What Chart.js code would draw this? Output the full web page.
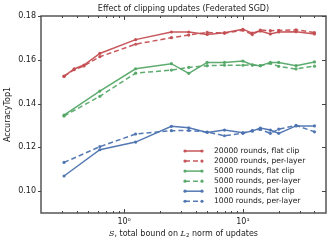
<!DOCTYPE html>
<html>
<head>
<meta charset="utf-8">
<script src="https://cdn.jsdelivr.net/npm/chart.js@4"></script>
<style>
  html, body { margin: 0; padding: 0; background: #fff; }
  #wrap { width: 332px; height: 246px; }
</style>
</head>
<body>
<div id="wrap"><canvas id="chart" width="332" height="246"></canvas></div>
<script>
// x positions (S, total bound on L2 norm)
const xsMain = [0.3125, 0.625, 1.25, 2.5, 3.5, 5, 7, 10, 12, 14, 17, 20, 28, 40];
const xsRed = [0.3125, 0.38, 0.46, 0.625, 1.25, 2.5, 3.5, 5, 7, 10, 12, 14, 17, 20, 28, 40];

// accuracy values
const red20kFlat = [0.1524, 0.1558, 0.1576, 0.1629, 0.1692, 0.1727, 0.1727, 0.1716, 0.1724, 0.1739, 0.1722, 0.1731, 0.1718, 0.1727, 0.1728, 0.1718];
const red20kLayer = [0.1525, 0.1555, 0.1572, 0.1614, 0.1671, 0.1701, 0.1713, 0.1725, 0.1721, 0.1735, 0.1715, 0.1736, 0.1733, 0.1734, 0.1737, 0.1724];
const green5kFlat = [0.1347, 0.1457, 0.1559, 0.1582, 0.1538, 0.1588, 0.1588, 0.1594, 0.1576, 0.1573, 0.1588, 0.1588, 0.1573, 0.1590];
const green5kLayer = [0.1343, 0.1433, 0.1539, 0.1553, 0.1565, 0.1573, 0.1575, 0.1575, 0.1577, 0.1573, 0.1584, 0.1570, 0.1558, 0.1571];
const blue1kFlat = [0.1069, 0.1189, 0.1224, 0.1296, 0.1289, 0.1268, 0.1279, 0.1267, 0.1274, 0.1288, 0.1279, 0.1264, 0.1298, 0.1298];
const blue1kLayer = [0.1131, 0.1203, 0.1261, 0.1276, 0.1277, 0.1270, 0.1253, 0.1264, 0.1277, 0.1282, 0.1264, 0.1283, 0.1300, 0.1271];

const seriesNames = [
  '20000 rounds, flat clip', '20000 rounds, per-layer',
  '5000 rounds, flat clip', '5000 rounds, per-layer',
  '1000 rounds, flat clip', '1000 rounds, per-layer'
];

const yTicks = [0.10, 0.12, 0.14, 0.16, 0.18];
const xMajorTicks = [1, 10];
const xMinorTicks = [0.3, 0.4, 0.5, 0.6, 0.7, 0.8, 0.9, 2, 3, 4, 5, 6, 7, 8, 9, 20, 30, 40];

const RED = 'rgba(196, 78, 82, 0.95)';
const GREEN = 'rgba(85, 168, 104, 0.95)';
const BLUE = 'rgba(76, 114, 176, 0.95)';
const FONT = "'DejaVu Sans', sans-serif";
const DASH = [5, 3];

function pts(xs, ys) {
  return xs.map((x, i) => ({ x: x, y: ys[i] }));
}

function makeSet(label, xs, ys, color, dashed) {
  return {
    label: label,
    data: pts(xs, ys),
    borderColor: color,
    backgroundColor: color,
    borderWidth: 1.5,
    borderDash: dashed ? DASH : [],
    pointRadius: 1.6,
    pointBorderWidth: 0,
    pointBackgroundColor: color,
    tension: 0,
    fill: false
  };
}

// title, axis frame, inside ticks, x label and legend
const decorPlugin = {
  id: 'decor',
  afterDraw(chart) {
    const ctx = chart.ctx;
    const a = chart.chartArea;
    const xs = chart.scales.x;
    const ys = chart.scales.y;
    ctx.save();

    // frame
    ctx.strokeStyle = '#555';
    ctx.lineWidth = 1.5;
    ctx.setLineDash([]);
    ctx.strokeRect(a.left, a.top, a.right - a.left, a.bottom - a.top);

    // ticks
    ctx.lineWidth = 1;
    ctx.strokeStyle = '#444';
    function xTick(v, len) {
      const px = Math.round(xs.getPixelForValue(v)) + 0.5;
      ctx.beginPath();
      ctx.moveTo(px, a.bottom); ctx.lineTo(px, a.bottom - len);
      ctx.moveTo(px, a.top); ctx.lineTo(px, a.top + len);
      ctx.stroke();
    }
    xMajorTicks.forEach(v => xTick(v, 4));
    xMinorTicks.forEach(v => xTick(v, 2));
    yTicks.forEach(v => {
      const py = Math.round(ys.getPixelForValue(v)) + 0.5;
      ctx.beginPath();
      ctx.moveTo(a.left - 3, py); ctx.lineTo(a.left, py);
      ctx.moveTo(a.right, py); ctx.lineTo(a.right - 4, py);
      ctx.stroke();
    });

    // title
    ctx.fillStyle = '#222';
    ctx.font = '8px ' + FONT;
    ctx.textAlign = 'center';
    ctx.textBaseline = 'middle';
    ctx.fillText('Effect of clipping updates (Federated SGD)', (a.left + a.right) / 2, 9);

    // y label
    ctx.save();
    ctx.translate(8, (a.top + a.bottom) / 2);
    ctx.rotate(-Math.PI / 2);
    ctx.fillText('AccuracyTop1', 0, 0);
    ctx.restore();

    // x label with math parts
    const parts = [
      { t: 'S', f: "italic 8px 'DejaVu Serif', serif", dy: 0 },
      { t: ', total bound on ', f: '8px ' + FONT, dy: 0 },
      { t: 'L', f: "italic 8px 'DejaVu Serif', serif", dy: 0 },
      { t: '2', f: '5.5px ' + FONT, dy: 2 },
      { t: ' norm of updates', f: '8px ' + FONT, dy: 0 }
    ];
    let total = 0;
    parts.forEach(p => { ctx.font = p.f; p.w = ctx.measureText(p.t).width; total += p.w; });
    let cx = (a.left + a.right) / 2 - total / 2;
    ctx.textAlign = 'left';
    parts.forEach(p => {
      ctx.font = p.f;
      ctx.fillText(p.t, cx, 234 + p.dy);
      cx += p.w;
    });

    // legend
    const lx = a.right - 141;
    const ly = a.top + 135;
    ctx.font = '7.6px ' + FONT;
    chart.data.datasets.forEach((ds, i) => {
      const y = ly + i * 10.05;
      ctx.strokeStyle = ds.borderColor;
      ctx.fillStyle = ds.borderColor;
      ctx.lineWidth = 1.5;
      ctx.setLineDash(ds.borderDash);
      ctx.beginPath();
      ctx.moveTo(lx, y); ctx.lineTo(lx + 17, y);
      ctx.stroke();
      ctx.setLineDash([]);
      [lx, lx + 17].forEach(px => {
        ctx.beginPath();
        ctx.arc(px, y, 1.6, 0, Math.PI * 2);
        ctx.fill();
      });
      ctx.fillStyle = '#222';
      ctx.fillText(seriesNames[i], lx + 29, y);
    });

    ctx.restore();
  }
};

new Chart(document.getElementById('chart').getContext('2d'), {
  type: 'line',
  data: {
    datasets: [
      makeSet(seriesNames[0], xsRed, red20kFlat, RED, false),
      makeSet(seriesNames[1], xsRed, red20kLayer, RED, true),
      makeSet(seriesNames[2], xsMain, green5kFlat, GREEN, false),
      makeSet(seriesNames[3], xsMain, green5kLayer, GREEN, true),
      makeSet(seriesNames[4], xsMain, blue1kFlat, BLUE, false),
      makeSet(seriesNames[5], xsMain, blue1kLayer, BLUE, true)
    ]
  },
  plugins: [decorPlugin],
  options: {
    responsive: false,
    animation: false,
    layout: { padding: { top: 16, right: 6, left: 0, bottom: 0 } },
    plugins: {
      legend: { display: false },
      title: { display: false },
      tooltip: { enabled: false }
    },
    scales: {
      x: {
        type: 'logarithmic',
        min: 0.2,
        max: 50,
        afterBuildTicks: s => { s.ticks = xMajorTicks.map(v => ({ value: v })); },
        afterFit: s => { s.height = 33; },
        grid: { display: false, drawTicks: true, tickLength: 0 },
        border: { display: false },
        ticks: {
          padding: 4,
          maxRotation: 0,
          color: '#222',
          font: { family: 'DejaVu Sans', size: 8 },
          callback: v => (v === 1 ? '10\u2070' : v === 10 ? '10\u00b9' : '')
        }
      },
      y: {
        type: 'linear',
        min: 0.09,
        max: 0.18,
        afterBuildTicks: s => { s.ticks = yTicks.map(v => ({ value: v })); },
        afterFit: s => { s.width = 41; },
        grid: { display: false, drawTicks: true, tickLength: 0 },
        border: { display: false },
        ticks: {
          padding: 5,
          color: '#222',
          font: { family: 'DejaVu Sans', size: 8 },
          callback: v => v.toFixed(2)
        }
      }
    }
  }
});
</script>
</body>
</html>
